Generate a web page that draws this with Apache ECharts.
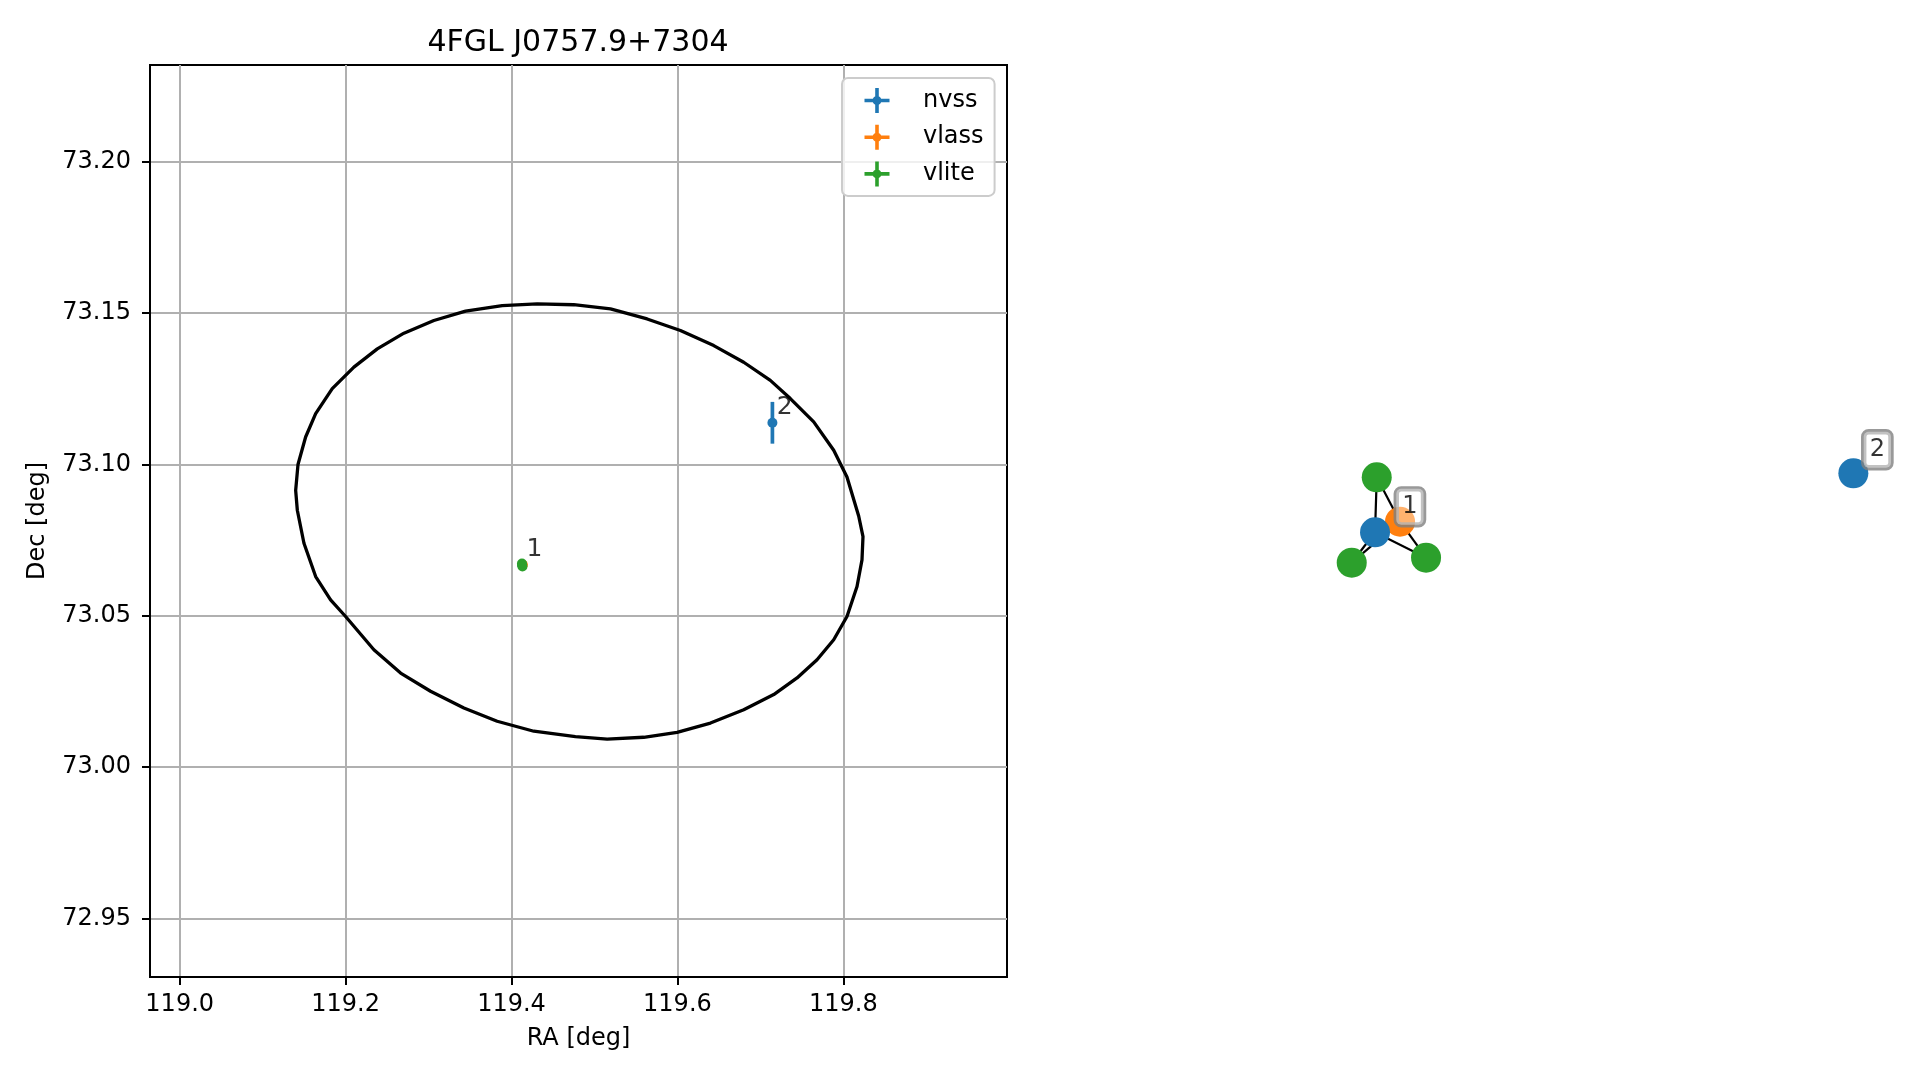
<!DOCTYPE html>
<html><head><meta charset="utf-8">
<script src="https://cdn.jsdelivr.net/npm/echarts@6/dist/echarts.min.js"></script>
<style>html,body{margin:0;padding:0;background:#fff}#c{width:1919px;height:1080px}</style>
</head><body><div id="c"></div>
<script>
// ---------------- data ----------------
const titleText = '4FGL J0757.9+7304';
const xAxisName = 'RA [deg]';
const yAxisName = 'Dec [deg]';
const xTicks = [119.0, 119.2, 119.4, 119.6, 119.8];
const yTicks = [72.95, 73.00, 73.05, 73.10, 73.15, 73.20];
const xRange = [118.9642, 119.9973];
const yRange = [72.9307, 73.2320];

// 4FGL error ellipse outline
const ellipseRA = [119.1418,119.1398,119.1426,119.1518,119.1639,119.1839,119.2100,119.2382,119.2703,119.3064,
  119.3446,119.3888,119.4309,119.4750,119.5193,119.5635,119.6036,119.6438,119.6799,119.7120,
  119.7361,119.7643,119.7884,119.8044,119.8185,119.8237,119.8225,119.8165,119.8044,119.7884,
  119.7683,119.7442,119.7161,119.6799,119.6398,119.5996,119.5594,119.5153,119.4771,119.4269,
  119.3827,119.3426,119.3024,119.2663,119.2341,119.2000,119.1819,119.1639,119.1498,119.1418];
const ellipseDec = [73.0849,73.0915,73.1000,73.1091,73.1168,73.1251,73.1322,73.1382,73.1434,73.1476,
  73.1507,73.1525,73.1531,73.1528,73.1514,73.1481,73.1443,73.1393,73.1338,73.1278,
  73.1218,73.1141,73.1047,73.0959,73.0830,73.0762,73.0685,73.0597,73.0498,73.0421,
  73.0355,73.0295,73.0240,73.0190,73.0146,73.0115,73.0099,73.0093,73.0101,73.0119,
  73.0152,73.0196,73.0251,73.0311,73.0388,73.0498,73.0553,73.0630,73.0740,73.0849];

// radio sources: RA, Dec, RA error, Dec error (deg)
const nvssRA = [119.4129, 119.7145];
const nvssDec = [73.0668, 73.1138];
const nvssRAErr = [0.0002, 0.0005];
const nvssDecErr = [0.0002, 0.0069];
const vlassRA = [119.4137];
const vlassDec = [73.0669];
const vlassRAErr = [0.0001];
const vlassDecErr = [0.0001];
const vliteRA = [119.4126, 119.4129, 119.4132];
const vliteDec = [73.0673, 73.0668, 73.0663];
const vliteRAErr = [0.0002, 0.0002, 0.0002];
const vliteDecErr = [0.0003, 0.0003, 0.0003];

// match groups
const groupNames = ['1', '2'];
const groupRA = [119.4129, 119.7145];
const groupDec = [73.0668, 73.1138];

// match graph (layout coordinates)
const nodeIds = ['vlite-1a', 'vlite-1b', 'vlite-1c', 'vlass-1', 'nvss-1', 'nvss-2'];
const nodeCats = ['vlite', 'vlite', 'vlite', 'vlass', 'nvss', 'nvss'];
const nodeGroup = ['1', '1', '1', '1', '1', '2'];
const nodeX = [-0.2236, -0.2878, -0.0970, -0.1638, -0.2280, 1.0];
const nodeY = [0.1117, -0.1076, -0.0947, -0.0023, -0.0295, 0.1220];
const edgeSource = ['nvss-1', 'nvss-1', 'nvss-1', 'nvss-1', 'vlass-1', 'vlass-1', 'vlass-1'];
const edgeTarget = ['vlass-1', 'vlite-1a', 'vlite-1b', 'vlite-1c', 'vlite-1a', 'vlite-1b', 'vlite-1c'];

// ---------------- styling ----------------
const catColor = { nvss: '#1f77b4', vlass: '#ff7f0e', vlite: '#2ca02c' };
const FONT = 'DejaVu Sans';
const legendIcon = 'path://M0 10.7 L25 10.7 L25 14.3 L0 14.3 Z M10.7 0 L14.3 0 L14.3 25 L10.7 25 Z M17 12.5 A4.5 4.5 0 1 1 8 12.5 A4.5 4.5 0 1 1 17 12.5 Z';

function zip4(a, b, c, d) { return a.map((v, i) => [v, b[i], c[i], d[i]]); }
function errRender(color) {
  return function (params, api) {
    const x = api.value(0), y = api.value(1), ex = api.value(2), ey = api.value(3);
    const pL = api.coord([x - ex, y]), pR = api.coord([x + ex, y]);
    const pB = api.coord([x, y - ey]), pT = api.coord([x, y + ey]);
    const style = { stroke: color, lineWidth: 3.7, fill: null };
    return { type: 'group', children: [
      { type: 'line', shape: { x1: pL[0], y1: pL[1], x2: pR[0], y2: pR[1] }, style: style },
      { type: 'line', shape: { x1: pB[0], y1: pB[1], x2: pT[0], y2: pT[1] }, style: style }
    ] };
  };
}
function srcSeries(name, ra, dec, era, edec) {
  const color = catColor[name];
  return [
    { type: 'custom', name: name + ' err', xAxisIndex: 0, yAxisIndex: 0,
      renderItem: errRender(color), encode: { x: 0, y: 1 },
      data: zip4(ra, dec, era, edec), silent: true, z: 3 },
    { type: 'scatter', name: name, xAxisIndex: 0, yAxisIndex: 0,
      symbol: 'circle', symbolSize: 10, itemStyle: { color: color, opacity: 1 },
      data: ra.map((v, i) => [v, dec[i]]), silent: true, z: 4 }
  ];
}

// graph nodes/links
const graphNodes = nodeIds.map((id, i) => ({
  name: id, value: [nodeX[i], nodeY[i]],
  itemStyle: { color: catColor[nodeCats[i]], opacity: 1 }
}));
const graphLinks = edgeSource.map((s, i) => ({ source: s, target: edgeTarget[i] }));
// group centroids (mean of node positions of each group)
const groupCentroids = groupNames.map(g => {
  const idx = nodeGroup.map((gg, i) => gg === g ? i : -1).filter(i => i >= 0);
  const mx = idx.reduce((s, i) => s + nodeX[i], 0) / idx.length;
  const my = idx.reduce((s, i) => s + nodeY[i], 0) / idx.length;
  return { name: g, value: [mx, my] };
});

const chart = echarts.init(document.getElementById('c'), null, { renderer: 'canvas' });
chart.setOption({
  animation: false,
  backgroundColor: '#ffffff',
  textStyle: { fontFamily: FONT },
  title: {
    text: titleText, left: 578, top: 28, textAlign: 'center', padding: 0,
    textStyle: { fontFamily: FONT, fontSize: 30, fontWeight: 'normal', color: '#000', lineHeight: 30 }
  },
  legend: {
    orient: 'vertical', left: 842, top: 78,
    padding: [10, 11, 9.5, 22.5],
    itemWidth: 25, itemHeight: 25, itemGap: 11.7,
    backgroundColor: 'rgba(255,255,255,0.8)', borderColor: '#cccccc', borderWidth: 2, borderRadius: 6,
    textStyle: { fontFamily: FONT, fontSize: 24, color: '#000', padding: [0, 0, 0, 28.5] },
    selectedMode: false,
    data: [
      { name: 'nvss', icon: legendIcon },
      { name: 'vlass', icon: legendIcon },
      { name: 'vlite', icon: legendIcon }
    ]
  },
  grid: [
    { left: 150, top: 65, width: 857, height: 912, show: true, borderColor: '#000', borderWidth: 2, backgroundColor: 'transparent' },
    { left: 1171.7, top: 365, width: 720.6, height: 311.6, show: false }
  ],
  xAxis: [
    { type: 'value', gridIndex: 0, min: xRange[0], max: xRange[1],
      name: xAxisName, nameLocation: 'middle', nameGap: 50,
      nameTextStyle: { fontFamily: FONT, fontSize: 24, color: '#000' },
      axisLine: { show: true, onZero: false, lineStyle: { color: '#000', width: 2 } },
      axisTick: { show: true, inside: false, length: 8, lineStyle: { color: '#000', width: 2 }, customValues: xTicks },
      axisLabel: { show: true, margin: 16, fontFamily: FONT, fontSize: 24, color: '#000',
        customValues: xTicks, formatter: v => Number(v).toFixed(1) },
      splitLine: { show: true, lineStyle: { color: '#b0b0b0', width: 2 } }
    },
    { type: 'value', gridIndex: 1, min: -0.75, max: 1.1, show: false }
  ],
  yAxis: [
    { type: 'value', gridIndex: 0, min: yRange[0], max: yRange[1],
      name: yAxisName, nameLocation: 'middle', nameGap: 100, nameRotate: 90,
      nameTextStyle: { fontFamily: FONT, fontSize: 24, color: '#000' },
      axisLine: { show: true, onZero: false, lineStyle: { color: '#000', width: 2 } },
      axisTick: { show: true, inside: false, length: 8, lineStyle: { color: '#000', width: 2 }, customValues: yTicks },
      axisLabel: { show: true, margin: 19, fontFamily: FONT, fontSize: 24, color: '#000',
        customValues: yTicks, formatter: v => Number(v).toFixed(2) },
      splitLine: { show: true, lineStyle: { color: '#b0b0b0', width: 2 } }
    },
    { type: 'value', gridIndex: 1, min: -0.4, max: 0.4, show: false }
  ],
  series: [
    { type: 'line', name: 'ellipse', xAxisIndex: 0, yAxisIndex: 0,
      data: ellipseRA.map((v, i) => [v, ellipseDec[i]]),
      showSymbol: false, symbol: 'none', lineStyle: { color: '#000', width: 3.3 },
      silent: true, z: 2, clip: true },
    ...srcSeries('nvss', nvssRA, nvssDec, nvssRAErr, nvssDecErr),
    ...srcSeries('vlass', vlassRA, vlassDec, vlassRAErr, vlassDecErr),
    ...srcSeries('vlite', vliteRA, vliteDec, vliteRAErr, vliteDecErr),
    { type: 'scatter', name: 'group labels', xAxisIndex: 0, yAxisIndex: 0,
      symbolSize: 2, itemStyle: { color: 'rgba(0,0,0,0)' },
      data: groupNames.map((g, i) => ({ name: g, value: [groupRA[i], groupDec[i]] })),
      label: { show: true, formatter: p => p.name, position: [5.4, -14.5], align: 'left', verticalAlign: 'middle',
        fontFamily: FONT, fontSize: 25, color: '#000' },
      silent: true, z: 6 },
    { type: 'graph', name: 'match graph', coordinateSystem: 'cartesian2d', xAxisIndex: 1, yAxisIndex: 1,
      layout: 'none', symbol: 'circle', symbolSize: 30,
      data: graphNodes, links: graphLinks,
      lineStyle: { color: '#000', width: 2.2, opacity: 1, curveness: 0 },
      label: { show: false }, emphasis: { disabled: true }, silent: true, z: 2 },
    { type: 'scatter', name: 'graph labels', xAxisIndex: 1, yAxisIndex: 1,
      symbolSize: 2, itemStyle: { color: 'rgba(0,0,0,0)' },
      data: groupCentroids,
      label: { show: true, formatter: p => p.name, position: 'inside', offset: [24, -23.5],
        fontFamily: FONT, fontSize: 24, lineHeight: 28, color: '#000',
        backgroundColor: 'rgba(255,255,255,0.5)', borderColor: '#808080', borderWidth: 2.7, borderRadius: 5,
        padding: [4, 6, 4, 6] },
      silent: true, z: 5 }
  ]
});
</script>
</body></html>
